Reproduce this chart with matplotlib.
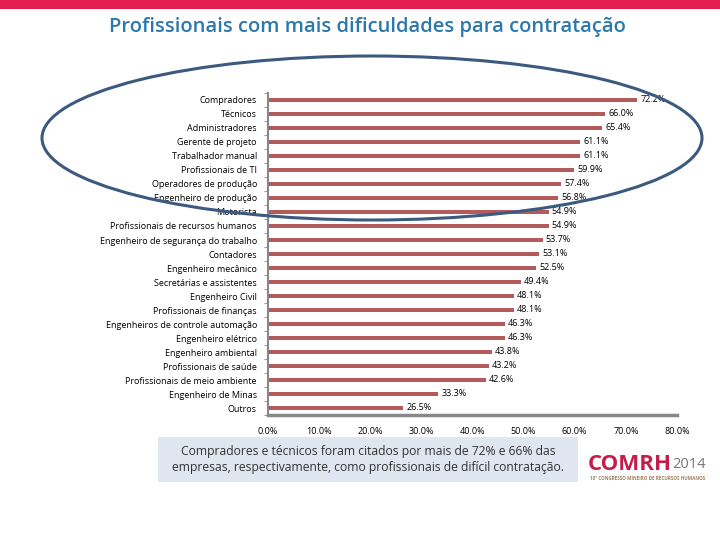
import matplotlib.pyplot as plt
from matplotlib.patches import Ellipse, Rectangle
import numpy as np

# data
categorias = ['Compradores', 'Técnicos', 'Administradores', 'Gerente de projeto',
              'Trabalhador manual', 'Profissionais de TI', 'Operadores de produção',
              'Engenheiro de produção', 'Motorista', 'Profissionais de recursos humanos',
              'Engenheiro de segurança do trabalho', 'Contadores', 'Engenheiro mecânico',
              'Secretárias e assistentes', 'Engenheiro Civil', 'Profissionais de finanças',
              'Engenheiros de controle automação', 'Engenheiro elétrico',
              'Engenheiro ambiental', 'Profissionais de saúde',
              'Profissionais de meio ambiente', 'Engenheiro de Minas', 'Outros']
valores = [72.2, 66.0, 65.4, 61.1, 61.1, 59.9, 57.4, 56.8, 54.9, 54.9, 53.7, 53.1,
           52.5, 49.4, 48.1, 48.1, 46.3, 46.3, 43.8, 43.2, 42.6, 33.3, 26.5]
xticks = [0, 10, 20, 30, 40, 50, 60, 70, 80]

plt.rcParams['font.family'] = ['Open Sans', 'DejaVu Sans']

fig = plt.figure(figsize=(7.2, 5.4), dpi=100)
fig.patch.set_facecolor('white')

# top band and title
fig.patches.append(Rectangle((0, 1 - 9/540), 1, 9/540, transform=fig.transFigure,
                             facecolor='#e41f4f', edgecolor='none'))
fig.text(367/720, 1 - 27/540, 'Profissionais com mais dificuldades para contratação',
         ha='center', va='center', fontsize=14.5, color='#2b78ad', fontweight='semibold')

ax = fig.add_axes([268/720, 1 - 415/540, 409/720, 322/540])
y = np.arange(len(categorias))
ax.barh(y, valores, height=0.32, color='#b35a5a')
for yi, v in zip(y, valores):
    ax.text(v + 0.6, yi, f'{v:.1f}%', va='center', ha='left', fontsize=6.5, color='black')

ax.set_ylim(len(categorias) - 0.5, -0.5)
ax.set_xlim(0, 80)
ax.set_yticks(y)
ax.set_yticklabels(categorias, fontsize=6.5)
ax.set_yticks(np.arange(len(categorias) + 1) - 0.5, minor=True)
ax.tick_params(axis='y', which='major', length=0, pad=8)
ax.tick_params(axis='y', which='minor', length=3, color='#888888', direction='out')
ax.set_xticks(xticks)
ax.set_xticklabels([f'{t:.1f}%' for t in xticks], fontsize=6.5)
ax.tick_params(axis='x', length=0, pad=9)
for s in ['top', 'right']:
    ax.spines[s].set_visible(False)
ax.spines['left'].set_color('#888888')
ax.spines['left'].set_linewidth(1.5)
ax.spines['bottom'].set_color('#888888')
ax.spines['bottom'].set_linewidth(2.5)

# highlight ellipse
fig.patches.append(Ellipse((372/720, 1 - 138/540), 660/720, 164/540,
                           transform=fig.transFigure, fill=False,
                           edgecolor='#3c5a80', linewidth=2.2, zorder=10))

# caption box
fig.patches.append(Rectangle((158/720, 1 - 482/540), 420/720, 45/540,
                             transform=fig.transFigure, facecolor='#dfe6f0',
                             edgecolor='none'))
fig.text(368/720, 1 - 459/540,
         'Compradores e técnicos foram citados por mais de 72% e 66% das\n'
         'empresas, respectivamente, como profissionais de difícil contratação.',
         ha='center', va='center', fontsize=8.7, color='#333333', linespacing=1.3,
         fontweight='medium')

# logo
fig.text(588/720, 1 - 464/540, 'COMRH', ha='left', va='center', fontsize=16,
         color='#c41e4a', fontweight='bold')
fig.text(706/720, 1 - 464/540, '2014', ha='right', va='center', fontsize=10.5,
         color='#777777')
fig.text(590/720, 1 - 479/540, '10º CONGRESSO MINEIRO DE RECURSOS HUMANOS',
         ha='left', va='center', fontsize=3.3, color='#a08060', fontweight='bold')

fig.savefig('out.png', dpi=100)
